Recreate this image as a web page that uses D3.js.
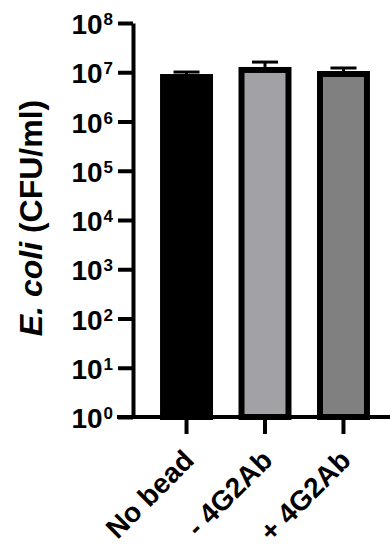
<!DOCTYPE html>
<html>
<head>
<script src="https://d3js.org/d3.v7.min.js"></script>
<style>
  body { margin: 0; background: #fff; }
  text { font-family: "Liberation Sans", Arial, sans-serif; font-weight: bold; fill: #000; }
</style>
</head>
<body>
<div id="graph"></div>
<script>
// data
var categories = ["No bead", "- 4G2Ab", "+ 4G2Ab"];
var means = [9.2e6, 1.28e7, 1.06e7];
var errTops = [1.01e7, 1.61e7, 1.22e7];
var fills = ["#000000", "#a2a1a6", "#808080"];
var tickExps = [0, 1, 2, 3, 4, 5, 6, 7, 8];

var width = 390, height = 552;
var axisX = 133, baseY = 417, topY = 23;

var svg = d3.select("#graph").append("svg")
    .attr("width", width)
    .attr("height", height);

var y = d3.scaleLog().domain([1, 1e8]).range([baseY, topY]);
var x = d3.scaleBand().domain(categories)
    .range([136.5, 393.5])
    .paddingInner(0.325)
    .paddingOuter(0.3);

// bars
var bw = 6;
svg.selectAll("rect.bar")
    .data(categories)
    .enter().append("rect")
    .attr("class", "bar")
    .attr("x", function(d) { return x(d) + bw / 2; })
    .attr("width", x.bandwidth() - bw)
    .attr("y", function(d, i) { return y(means[i]) + bw / 2; })
    .attr("height", function(d, i) { return baseY - y(means[i]) - bw / 2; })
    .attr("fill", function(d, i) { return fills[i]; })
    .attr("stroke", "#000")
    .attr("stroke-width", bw);

// error bars
var eb = svg.selectAll("g.err")
    .data(categories)
    .enter().append("g")
    .attr("class", "err");
eb.append("line")
    .attr("x1", function(d) { return x(d) + x.bandwidth() / 2; })
    .attr("x2", function(d) { return x(d) + x.bandwidth() / 2; })
    .attr("y1", function(d, i) { return y(means[i]); })
    .attr("y2", function(d, i) { return y(errTops[i]); })
    .attr("stroke", "#000").attr("stroke-width", 3);
eb.append("line")
    .attr("x1", function(d) { return x(d) + x.bandwidth() / 2 - 13; })
    .attr("x2", function(d) { return x(d) + x.bandwidth() / 2 + 13; })
    .attr("y1", function(d, i) { return y(errTops[i]); })
    .attr("y2", function(d, i) { return y(errTops[i]); })
    .attr("stroke", "#000").attr("stroke-width", 3);

// y axis
var yAxis = d3.axisLeft(y)
    .tickValues(tickExps.map(function(e) { return Math.pow(10, e); }))
    .tickSize(15)
    .tickSizeOuter(0)
    .tickFormat("");
var gy = svg.append("g")
    .attr("transform", "translate(" + axisX + ",0)")
    .call(yAxis);
gy.select(".domain").attr("stroke", "#000").attr("stroke-width", 4);
gy.selectAll(".tick line").attr("stroke", "#000").attr("stroke-width", 4);

var lab = svg.selectAll("text.ylab")
    .data(tickExps)
    .enter().append("text")
    .attr("class", "ylab")
    .attr("x", 113)
    .attr("y", function(e) { return y(Math.pow(10, e)) + 11; })
    .attr("text-anchor", "end")
    .style("font-size", "28px");
lab.append("tspan").text("10");
lab.append("tspan")
    .attr("dx", 1)
    .attr("dy", -9)
    .style("font-size", "17px")
    .text(function(e) { return e; });

// x axis
var gx = svg.append("g")
    .attr("transform", "translate(0," + baseY + ")")
    .call(d3.axisBottom(x).tickSize(17).tickSizeOuter(0).tickFormat(""));
gx.select(".domain")
    .attr("d", "M117,0H390")
    .attr("stroke", "#000").attr("stroke-width", 4);
gx.selectAll(".tick line").attr("stroke", "#000").attr("stroke-width", 4);

svg.selectAll("text.xlab")
    .data(categories)
    .enter().append("text")
    .attr("class", "xlab")
    .attr("text-anchor", "end")
    .style("font-size", "28px")
    .attr("transform", function(d) {
      return "translate(" + (x(d) + x.bandwidth() / 2 + 9) + "," + (baseY + 45) + ") rotate(-45)";
    })
    .text(function(d) { return d; });

// y title
var yt = svg.append("text")
    .attr("text-anchor", "middle")
    .attr("transform", "translate(42,218) rotate(-90)")
    .style("font-size", "32px");
yt.append("tspan").style("font-style", "italic").text("E. coli");
yt.append("tspan").text(" (CFU/ml)");
</script>
</body>
</html>
